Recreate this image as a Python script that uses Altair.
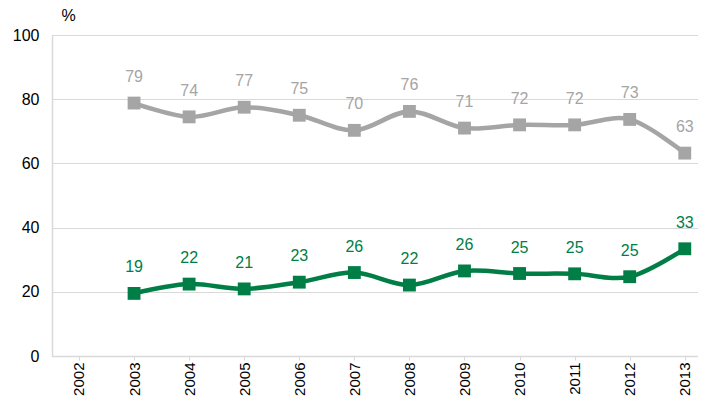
import altair as alt
import pandas as pd

years = list(range(2003, 2014))
gray_vals = [78.8, 74.5, 77.5, 75.0, 70.3, 76.2, 71.0, 72.0, 72.0, 73.7, 63.2]
gray_labels = ["79", "74", "77", "75", "70", "76", "71", "72", "72", "73", "63"]
green_vals = [19.5, 22.4, 20.9, 23.0, 26.0, 22.1, 26.5, 25.7, 25.6, 24.7, 33.4]
green_labels = ["19", "22", "21", "23", "26", "22", "26", "25", "25", "25", "33"]
axis_years = list(range(2002, 2014))
y_ticks = [0, 20, 40, 60, 80, 100]

GRAY = "#A5A5A5"
GREEN = "#007E46"

rows = []
for y, v, l in zip(years, gray_vals, gray_labels):
    rows.append({"year": y, "value": v, "label": l, "series": "gray"})
for y, v, l in zip(years, green_vals, green_labels):
    rows.append({"year": y, "value": v, "label": l, "series": "green"})
df = pd.DataFrame(rows)

x = alt.X("year:Q",
          scale=alt.Scale(domain=[2001.51, 2013.24], nice=False, zero=False),
          axis=alt.Axis(values=axis_years, format="d", labelAngle=-90, labelAlign="right",
                        labelBaseline="middle", labelFontSize=15, labelColor="#000000",
                        labelFont="Liberation Sans", labelPadding=2,
                        grid=False, ticks=True, tickSize=4, tickColor="#D9D9D9",
                        domainColor="#D9D9D9", domainWidth=1.5, title=None))
y = alt.Y("value:Q",
          scale=alt.Scale(domain=[0, 100], nice=False),
          axis=alt.Axis(values=y_ticks, grid=True, gridColor="#D9D9D9", gridWidth=1,
                        ticks=False, domainColor="#D9D9D9", domainWidth=1.5,
                        labelFontSize=16, labelColor="#000000", labelFont="Liberation Sans",
                        labelPadding=13, title="%", titleAngle=0, titleX=16, titleY=-20,
                        titleAlign="center", titleBaseline="middle", titleFontSize=16,
                        titleFontWeight="normal", titleFont="Liberation Sans",
                        titleColor="#000000"))

color = alt.Color("series:N", scale=alt.Scale(domain=["gray", "green"], range=[GRAY, GREEN]),
                  legend=None)

base = alt.Chart(df).encode(x=x, y=y, color=color)

lines = base.mark_line(interpolate="cardinal", strokeWidth=4.5)
points = base.mark_square(size=165, opacity=1)
texts = base.mark_text(dy=-26, fontSize=16, font="Liberation Sans").encode(text="label:N")

chart = (lines + points + texts).properties(
    width=646, height=321,
    autosize=alt.AutoSizeParams(type="none"),
    padding={"left": 44, "top": 27, "right": 0, "bottom": 41}
).configure_view(stroke=None).configure(background="white")

chart.save("out.html", embed_options={"renderer": "svg", "actions": False})
